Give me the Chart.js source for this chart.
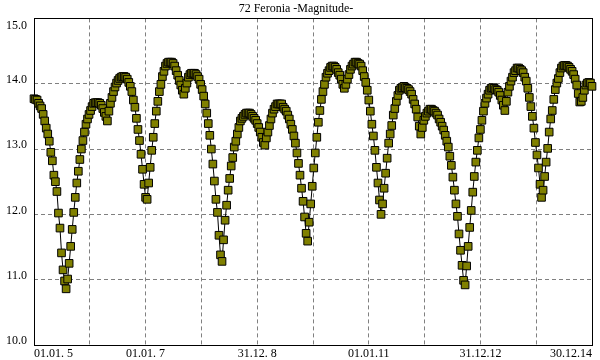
<!DOCTYPE html>
<html>
<head>
<meta charset="utf-8">
<script src="https://cdn.jsdelivr.net/npm/chart.js@4/dist/chart.umd.min.js"></script>
<style>
body{margin:0;background:#fff;}
#wrap{width:600px;height:360px;}
</style>
</head>
<body>
<div id="wrap"><canvas id="chart"></canvas></div>
<script>
const chartTitle = '72 Feronia -Magnitude-';
// one value every 10 days, starting 01.01.2005
const stepDays = 10;
const magnitudes = [
  13.77,13.76,13.75,13.70,13.66,13.62,13.53,13.43,13.32,13.23,13.12,12.95,12.82,12.60,12.50,12.35,12.02,11.79,11.41,11.15,10.98,10.86,
  11.01,11.25,11.51,11.77,12.03,12.26,12.48,12.66,12.84,13.00,13.13,13.26,13.38,13.46,13.53,13.59,13.65,13.70,13.71,13.71,13.71,13.70,13.67,13.62,13.56,13.50,13.43,
  13.58,13.70,13.79,13.88,13.95,14.01,14.05,14.08,14.10,14.11,14.11,14.10,14.07,14.02,13.96,13.88,13.75,13.64,13.47,13.30,13.13,12.92,12.69,12.46,12.26,12.23,
  12.48,12.72,12.98,13.18,13.39,13.58,13.73,13.88,13.99,14.11,14.19,14.27,14.31,14.33,14.33,14.33,14.31,14.27,14.20,14.13,14.05,13.98,13.90,13.84,
  13.93,14.01,14.10,14.14,14.16,14.16,14.16,14.14,14.11,14.07,13.99,13.91,13.81,13.69,13.55,13.39,13.21,13.00,12.77,12.51,12.23,12.03,11.68,11.38,11.28,
  11.61,11.91,12.14,12.37,12.55,12.74,12.87,13.03,13.12,13.23,13.33,13.43,13.47,13.50,13.53,13.55,13.55,13.55,13.53,13.50,13.47,13.44,13.39,13.33,13.26,13.18,13.10,13.06,
  13.17,13.26,13.36,13.46,13.55,13.61,13.65,13.69,13.69,13.69,13.69,13.64,13.61,13.58,13.52,13.46,13.38,13.30,13.20,13.09,12.94,12.78,12.60,12.40,12.20,11.96,11.71,11.59,
  11.88,12.16,12.43,12.71,12.94,13.18,13.41,13.59,13.76,13.88,13.99,14.10,14.16,14.20,14.25,14.27,14.27,14.25,14.22,14.17,14.13,14.07,13.99,13.93,
  13.99,14.07,14.14,14.22,14.27,14.30,14.33,14.33,14.31,14.30,14.27,14.20,14.11,14.02,13.90,13.75,13.58,13.38,13.20,12.98,12.72,12.48,12.22,12.00,
  12.16,12.40,12.63,12.86,13.09,13.23,13.36,13.52,13.62,13.73,13.82,13.90,13.93,13.94,13.96,13.94,13.93,13.91,13.88,13.84,13.76,13.69,13.61,13.49,13.35,13.23,
  13.33,13.44,13.50,13.55,13.58,13.61,13.61,13.59,13.58,13.55,13.52,13.46,13.41,13.35,13.29,13.21,13.12,13.03,12.89,12.75,12.57,12.37,12.16,11.97,11.70,11.45,11.22,10.99,10.92,
  11.21,11.51,11.80,12.06,12.34,12.58,12.80,12.98,13.17,13.30,13.44,13.58,13.70,13.78,13.84,13.90,13.93,13.94,13.93,13.91,13.90,13.87,13.82,13.75,13.67,13.59,
  13.73,13.87,13.96,14.04,14.10,14.17,14.20,14.24,14.24,14.22,14.20,14.17,14.10,14.04,13.93,13.79,13.65,13.50,13.32,13.10,12.91,12.71,12.46,12.26,
  12.37,12.58,12.80,13.01,13.26,13.46,13.59,13.76,13.91,14.01,14.08,14.17,14.24,14.27,14.28,14.28,14.27,14.25,14.22,14.19,14.14,14.07,13.98,13.85,13.72,
  13.73,13.79,13.90,13.98,14.01,14.02,14.01,13.96
];
const xTickDays = [0,365,730,1095,1460,1825,2190,2555,2920,3285,3650];
const xTickLabels = ['01.01. 5','','01.01. 7','','31.12. 8','','01.01.11','','31.12.12','','30.12.14'];
const yMin = 10, yMax = 15, yStep = 1;

const points = magnitudes.map((m, i) => ({ x: i * stepDays, y: m }));
const serif = "'Liberation Serif', 'DejaVu Serif', serif";

const frame = {
  id: 'frame',
  beforeDatasetsDraw(chart){
    const {ctx, chartArea: a} = chart;
    ctx.save();
    ctx.strokeStyle = '#000';
    ctx.lineWidth = 1;
    ctx.strokeRect(Math.round(a.left) + 0.5, Math.round(a.top) + 0.5, Math.round(a.right - a.left), Math.round(a.bottom - a.top));
    ctx.restore();
  }
};

function noPad(s){ s.paddingTop = 0; s.paddingBottom = 0; s.paddingLeft = 0; s.paddingRight = 0; }

new Chart(document.getElementById('chart'), {
  type: 'line',
  data: { datasets: [{
    data: points,
    borderColor: '#000',
    borderWidth: 1,
    tension: 0,
    pointStyle: 'rect',
    pointRadius: 5.4,
    pointBackgroundColor: '#808000',
    pointBorderColor: '#000',
    pointBorderWidth: 1,
    clip: false
  }]},
  options: {
    responsive: true,
    maintainAspectRatio: false,
    animation: false,
    layout: { padding: { left: 0, right: 8, top: 0, bottom: 0 } },
    plugins: {
      legend: { display: false },
      tooltip: { enabled: false },
      title: { display: true, text: chartTitle, color: '#000', font: { family: serif, size: 12, weight: 'normal' }, padding: { top: 2, bottom: 2 } }
    },
    scales: {
      x: {
        type: 'linear', min: xTickDays[0], max: xTickDays[xTickDays.length - 1],
        afterBuildTicks: s => { s.ticks = xTickDays.map(v => ({ value: v })); },
        afterFit: s => { s.height = 15; noPad(s); },
        grid: { color: '#808080', drawTicks: false },
        border: { display: false, dash: [4, 3] },
        ticks: {
          autoSkip: false, maxRotation: 0, align: 'inner', padding: 2,
          color: '#000', font: { family: serif, size: 12 },
          callback: (v, i) => xTickLabels[i]
        }
      },
      y: {
        min: yMin, max: yMax,
        afterFit: s => { s.width = 34; noPad(s); },
        grid: { color: '#808080', drawTicks: false },
        border: { display: false, dash: [4, 3] },
        ticks: {
          stepSize: yStep, padding: 7, labelOffset: -4,
          color: '#000',
          // top label sits just inside the frame
          font: c => ({ family: serif, size: 12, lineHeight: c.tick && c.tick.value === yMax ? 1.9 : 1.2 }),
          callback: v => v === yMax ? ['', v.toFixed(1)] : v.toFixed(1)
        }
      }
    }
  },
  plugins: [frame]
});
</script>
</body>
</html>
